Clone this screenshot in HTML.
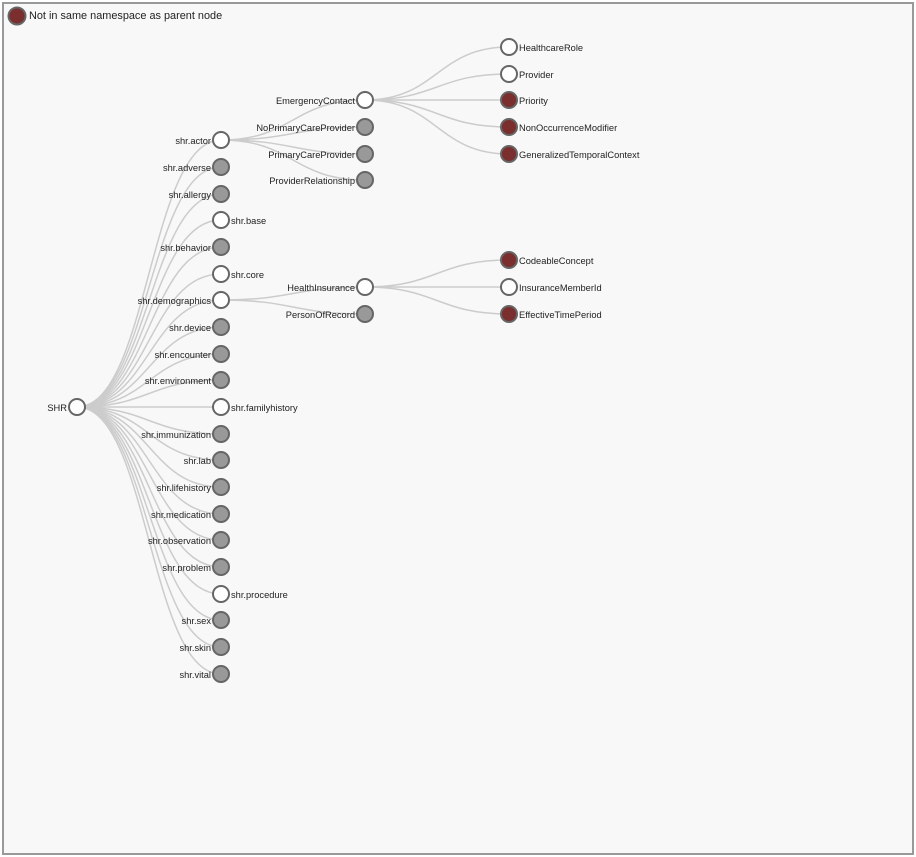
<!DOCTYPE html>
<html><head><meta charset="utf-8"><style>
html,body{margin:0;padding:0;background:#fff}
svg{display:block}
text{font-family:"Liberation Sans",Arial,sans-serif;font-size:9.3px;fill:#222}
.l{fill:none;stroke:#ccc;stroke-width:1.5}
.w{fill:#fff;stroke:#666;stroke-width:2}
.g{fill:#999;stroke:#666;stroke-width:2}
.r{fill:#7a2e2e;stroke:#666;stroke-width:2}
</style></head><body>
<svg width="916" height="857" xmlns="http://www.w3.org/2000/svg">
<rect x="3" y="3" width="910" height="851" fill="#f8f8f8" stroke="#999" stroke-width="2"/>
<circle cx="17" cy="16" r="8.5" class="r"/>
<text x="29" y="19" style="font-size:10.9px">Not in same namespace as parent node</text>
<g>
<path class="l" d="M77,407C149,407 149,140 221,140"/>
<path class="l" d="M77,407C149,407 149,167 221,167"/>
<path class="l" d="M77,407C149,407 149,194 221,194"/>
<path class="l" d="M77,407C149,407 149,220 221,220"/>
<path class="l" d="M77,407C149,407 149,247 221,247"/>
<path class="l" d="M77,407C149,407 149,274 221,274"/>
<path class="l" d="M77,407C149,407 149,300 221,300"/>
<path class="l" d="M77,407C149,407 149,327 221,327"/>
<path class="l" d="M77,407C149,407 149,354 221,354"/>
<path class="l" d="M77,407C149,407 149,380 221,380"/>
<path class="l" d="M77,407C149,407 149,407 221,407"/>
<path class="l" d="M77,407C149,407 149,434 221,434"/>
<path class="l" d="M77,407C149,407 149,460 221,460"/>
<path class="l" d="M77,407C149,407 149,487 221,487"/>
<path class="l" d="M77,407C149,407 149,514 221,514"/>
<path class="l" d="M77,407C149,407 149,540 221,540"/>
<path class="l" d="M77,407C149,407 149,567 221,567"/>
<path class="l" d="M77,407C149,407 149,594 221,594"/>
<path class="l" d="M77,407C149,407 149,620 221,620"/>
<path class="l" d="M77,407C149,407 149,647 221,647"/>
<path class="l" d="M77,407C149,407 149,674 221,674"/>
<path class="l" d="M221,140C293,140 293,100 365,100"/>
<path class="l" d="M221,140C293,140 293,127 365,127"/>
<path class="l" d="M221,140C293,140 293,154 365,154"/>
<path class="l" d="M221,140C293,140 293,180 365,180"/>
<path class="l" d="M221,300C293,300 293,287 365,287"/>
<path class="l" d="M221,300C293,300 293,314 365,314"/>
<path class="l" d="M365,100C437,100 437,47 509,47"/>
<path class="l" d="M365,100C437,100 437,74 509,74"/>
<path class="l" d="M365,100C437,100 437,100 509,100"/>
<path class="l" d="M365,100C437,100 437,127 509,127"/>
<path class="l" d="M365,100C437,100 437,154 509,154"/>
<path class="l" d="M365,287C437,287 437,260 509,260"/>
<path class="l" d="M365,287C437,287 437,287 509,287"/>
<path class="l" d="M365,287C437,287 437,314 509,314"/>
</g>
<g>
<circle cx="77" cy="407" r="8" class="w"/><text x="67" y="411" text-anchor="end">SHR</text>
<circle cx="221" cy="140" r="8" class="w"/><text x="211" y="144" text-anchor="end">shr.actor</text>
<circle cx="221" cy="167" r="8" class="g"/><text x="211" y="171" text-anchor="end">shr.adverse</text>
<circle cx="221" cy="194" r="8" class="g"/><text x="211" y="198" text-anchor="end">shr.allergy</text>
<circle cx="221" cy="220" r="8" class="w"/><text x="231" y="224">shr.base</text>
<circle cx="221" cy="247" r="8" class="g"/><text x="211" y="251" text-anchor="end">shr.behavior</text>
<circle cx="221" cy="274" r="8" class="w"/><text x="231" y="278">shr.core</text>
<circle cx="221" cy="300" r="8" class="w"/><text x="211" y="304" text-anchor="end">shr.demographics</text>
<circle cx="221" cy="327" r="8" class="g"/><text x="211" y="331" text-anchor="end">shr.device</text>
<circle cx="221" cy="354" r="8" class="g"/><text x="211" y="358" text-anchor="end">shr.encounter</text>
<circle cx="221" cy="380" r="8" class="g"/><text x="211" y="384" text-anchor="end">shr.environment</text>
<circle cx="221" cy="407" r="8" class="w"/><text x="231" y="411">shr.familyhistory</text>
<circle cx="221" cy="434" r="8" class="g"/><text x="211" y="438" text-anchor="end">shr.immunization</text>
<circle cx="221" cy="460" r="8" class="g"/><text x="211" y="464" text-anchor="end">shr.lab</text>
<circle cx="221" cy="487" r="8" class="g"/><text x="211" y="491" text-anchor="end">shr.lifehistory</text>
<circle cx="221" cy="514" r="8" class="g"/><text x="211" y="518" text-anchor="end">shr.medication</text>
<circle cx="221" cy="540" r="8" class="g"/><text x="211" y="544" text-anchor="end">shr.observation</text>
<circle cx="221" cy="567" r="8" class="g"/><text x="211" y="571" text-anchor="end">shr.problem</text>
<circle cx="221" cy="594" r="8" class="w"/><text x="231" y="598">shr.procedure</text>
<circle cx="221" cy="620" r="8" class="g"/><text x="211" y="624" text-anchor="end">shr.sex</text>
<circle cx="221" cy="647" r="8" class="g"/><text x="211" y="651" text-anchor="end">shr.skin</text>
<circle cx="221" cy="674" r="8" class="g"/><text x="211" y="678" text-anchor="end">shr.vital</text>
<circle cx="365" cy="100" r="8" class="w"/><text x="355" y="104" text-anchor="end">EmergencyContact</text>
<circle cx="365" cy="127" r="8" class="g"/><text x="355" y="131" text-anchor="end">NoPrimaryCareProvider</text>
<circle cx="365" cy="154" r="8" class="g"/><text x="355" y="158" text-anchor="end">PrimaryCareProvider</text>
<circle cx="365" cy="180" r="8" class="g"/><text x="355" y="184" text-anchor="end">ProviderRelationship</text>
<circle cx="365" cy="287" r="8" class="w"/><text x="355" y="291" text-anchor="end">HealthInsurance</text>
<circle cx="365" cy="314" r="8" class="g"/><text x="355" y="318" text-anchor="end">PersonOfRecord</text>
<circle cx="509" cy="47" r="8" class="w"/><text x="519" y="51">HealthcareRole</text>
<circle cx="509" cy="74" r="8" class="w"/><text x="519" y="78">Provider</text>
<circle cx="509" cy="100" r="8" class="r"/><text x="519" y="104">Priority</text>
<circle cx="509" cy="127" r="8" class="r"/><text x="519" y="131">NonOccurrenceModifier</text>
<circle cx="509" cy="154" r="8" class="r"/><text x="519" y="158">GeneralizedTemporalContext</text>
<circle cx="509" cy="260" r="8" class="r"/><text x="519" y="264">CodeableConcept</text>
<circle cx="509" cy="287" r="8" class="w"/><text x="519" y="291">InsuranceMemberId</text>
<circle cx="509" cy="314" r="8" class="r"/><text x="519" y="318">EffectiveTimePeriod</text>
</g>
</svg>
</body></html>
